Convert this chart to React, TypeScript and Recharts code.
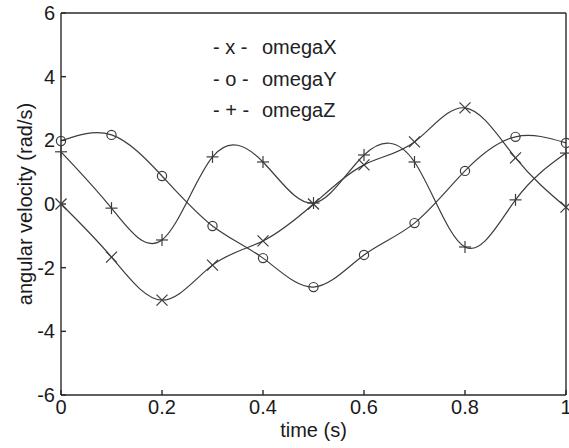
import { LineChart, Line, XAxis, YAxis, Legend } from 'recharts';

const times = [0, 0.1, 0.2, 0.3, 0.4, 0.5, 0.6, 0.7, 0.8, 0.9, 1.0];
const omegaX = [0, -1.67, -3.02, -1.92, -1.16, 0.0, 1.23, 1.95, 3.02, 1.45, -0.1];
const omegaY = [1.98, 2.17, 0.88, -0.69, -1.7, -2.61, -1.6, -0.6, 1.04, 2.11, 1.92];
const omegaZ = [1.64, -0.13, -1.13, 1.48, 1.32, 0.03, 1.54, 1.32, -1.35, 0.13, 1.6];

const xTicks = [0, 0.2, 0.4, 0.6, 0.8, 1];
const yTicks = [-6, -4, -2, 0, 2, 4, 6];

const legendRows = [
  { mark: '- x -', name: 'omegaX' },
  { mark: '- o -', name: 'omegaY' },
  { mark: '- + -', name: 'omegaZ' },
];

const data = times.map((t, i) => ({ t, omegaX: omegaX[i], omegaY: omegaY[i], omegaZ: omegaZ[i] }));

const INK = '#3c3c3c';
const AXIS = '#2a2a2a';
const FONT = '"Liberation Sans", Arial, Helvetica, sans-serif';

// marker shapes, like matlab's 'x', 'o', '+'
const crossDot = (p: any) => {
  const { cx, cy, index } = p;
  const s = 5.5;
  return (
    <g key={`x-${index}`} stroke={INK} strokeWidth={1.2}>
      <line x1={cx - s} y1={cy - s} x2={cx + s} y2={cy + s} />
      <line x1={cx - s} y1={cy + s} x2={cx + s} y2={cy - s} />
    </g>
  );
};

const circleDot = (p: any) => {
  const { cx, cy, index } = p;
  return <circle key={`o-${index}`} cx={cx} cy={cy} r={4.6} fill="none" stroke={INK} strokeWidth={1.2} />;
};

const plusDot = (p: any) => {
  const { cx, cy, index } = p;
  const s = 6;
  return (
    <g key={`p-${index}`} stroke={INK} strokeWidth={1.2}>
      <line x1={cx - s} y1={cy} x2={cx + s} y2={cy} />
      <line x1={cx} y1={cy - s} x2={cx} y2={cy + s} />
    </g>
  );
};

function TextLegend() {
  return (
    <div style={{ fontFamily: FONT, fontSize: 20, color: '#222' }}>
      {legendRows.map((r) => (
        <div key={r.name} style={{ display: 'flex', height: 31.5, lineHeight: '31.5px' }}>
          <span style={{ width: 49, whiteSpace: 'pre' }}>{r.mark}</span>
          <span>{r.name}</span>
        </div>
      ))}
    </div>
  );
}

export default function App() {
  const tickStyle = { fontSize: 20, fill: '#1a1a1a', fontFamily: FONT };
  return (
    <div style={{ position: 'absolute', left: 0, top: 0, width: 569, height: 448, background: '#fff' }}>
      <LineChart width={569} height={448} data={data} margin={{ top: 12, right: 2, left: 0, bottom: 0 }}>
        <XAxis
          dataKey="t" type="number" domain={[0, 1]} ticks={xTicks} xAxisId="bottom"
          height={53} tickSize={-5} tickMargin={10} interval={0}
          stroke={AXIS} strokeWidth={1.4} tick={tickStyle}
          label={{ value: 'time (s)', position: 'insideBottom', offset: 11, style: { fontSize: 20, fill: '#1a1a1a', fontFamily: FONT } }}
        />
        {/* top + right axes close the box, ticks only */}
        <XAxis
          dataKey="t" type="number" domain={[0, 1]} ticks={xTicks} xAxisId="top" orientation="top"
          height={1} tickSize={-5} tick={false} stroke={AXIS} strokeWidth={1.4} interval={0}
        />
        <YAxis
          yAxisId="left" type="number" domain={[-6, 6]} ticks={yTicks} width={61}
          tickSize={-5} tickMargin={11} interval={0} stroke={AXIS} strokeWidth={1.4} tick={tickStyle}
          label={{ value: 'angular velocity (rad/s)', angle: -90, position: 'insideLeft', offset: 25, style: { textAnchor: 'middle', fontSize: 20, fill: '#1a1a1a', fontFamily: FONT } }}
        />
        <YAxis
          yAxisId="right" orientation="right" type="number" domain={[-6, 6]} ticks={yTicks} width={1}
          tickSize={-5} tick={false} stroke={AXIS} strokeWidth={1.4} interval={0}
        />
        {/* middle/center so the legend reserves no space in the plot */}
        <Legend
          layout="horizontal" verticalAlign="middle" align="center"
          content={<TextLegend />}
          wrapperStyle={{ position: 'absolute', left: 213, top: 32, width: 160 }}
        />
        <Line xAxisId="bottom" yAxisId="left" type="natural" dataKey="omegaX" stroke={INK} strokeWidth={1.2} dot={crossDot} activeDot={false} isAnimationActive={false} />
        <Line xAxisId="bottom" yAxisId="left" type="natural" dataKey="omegaY" stroke={INK} strokeWidth={1.2} dot={circleDot} activeDot={false} isAnimationActive={false} />
        <Line xAxisId="bottom" yAxisId="left" type="natural" dataKey="omegaZ" stroke={INK} strokeWidth={1.2} dot={plusDot} activeDot={false} isAnimationActive={false} />
      </LineChart>
    </div>
  );
}
